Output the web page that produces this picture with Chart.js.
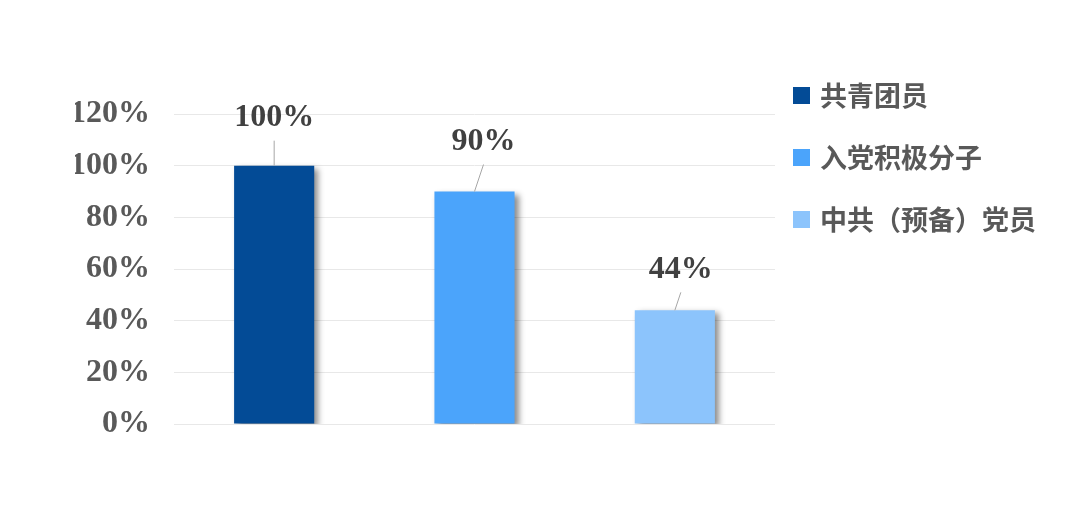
<!DOCTYPE html>
<html>
<head>
<meta charset="utf-8">
<script src="https://cdn.jsdelivr.net/npm/chart.js@4.4.1/dist/chart.umd.min.js"></script>
<style>
    html, body { margin: 0; padding: 0; background: #ffffff; }
    #wrap { width: 1080px; height: 528px; position: relative; }
</style>
</head>
<body>
<div id="wrap"><canvas id="myChart"></canvas></div>
<script>
// chart data
const categories = ['共青团员', '入党积极分子', '中共（预备）党员'];
const percentValues = [100, 90, 44];
const barColors = ['#034B96', '#4BA4FB', '#8CC4FC'];
const yMin = 0;
const yMax = 120;
const yStep = 20;

// one dataset per category so each bar gets its own legend entry
const datasets = categories.map((name, i) => ({
    label: name,
    data: categories.map((c, j) => (j === i ? percentValues[i] : null)),
    backgroundColor: barColors[i],
    borderWidth: 0
}));

// bar shadow + value labels with leader lines
const barDecorPlugin = {
    id: 'barDecor',
    beforeDatasetsDraw(chart) {
        const ctx = chart.ctx;
        const area = chart.chartArea;
        ctx.save();
        // keep the shadow above the 0% line
        ctx.beginPath();
        ctx.rect(area.left, 0, area.right - area.left, area.bottom);
        ctx.clip();
        ctx.shadowColor = 'rgba(0,0,0,0.45)';
        ctx.shadowBlur = 6;
        ctx.shadowOffsetX = 4;
        ctx.shadowOffsetY = 3;
    },
    afterDatasetsDraw(chart, args, opts) {
        const ctx = chart.ctx;
        ctx.restore();
        ctx.save();
        chart.data.datasets.forEach((ds, i) => {
            const bar = chart.getDatasetMeta(i).data[i];
            const shift = opts.shift[i];
            const lx = bar.x + shift.dx;
            const ly = bar.y + shift.dy;
            // leader line
            ctx.strokeStyle = '#A6A6A6';
            ctx.lineWidth = 1;
            ctx.beginPath();
            ctx.moveTo(lx, ly + 23);
            ctx.lineTo(bar.x, bar.y);
            ctx.stroke();
            // value text
            ctx.fillStyle = '#404040';
            ctx.font = 'bold 32px "Liberation Serif", "Times New Roman", serif';
            ctx.textAlign = 'center';
            ctx.textBaseline = 'middle';
            ctx.fillText(ds.data[i] + '%', lx, ly);
        });
        ctx.restore();
    }
};

// legend on the right side
const sideLegendPlugin = {
    id: 'sideLegend',
    afterDraw(chart, args, opts) {
        const ctx = chart.ctx;
        ctx.save();
        ctx.font = 'bold 27px "Noto Sans CJK SC", sans-serif';
        ctx.textBaseline = 'middle';
        ctx.textAlign = 'left';
        chart.data.datasets.forEach((ds, i) => {
            const cy = opts.top + i * opts.step;
            ctx.fillStyle = ds.backgroundColor;
            ctx.fillRect(opts.x, cy - 8, 17, 17);
            ctx.fillStyle = '#595959';
            ctx.fillText(ds.label, opts.x + 27, cy + 1);
        });
        ctx.restore();
    }
};

const ctx = document.getElementById('myChart');

new Chart(ctx, {
    type: 'bar',
    data: {
        labels: categories,
        datasets: datasets
    },
    options: {
        responsive: true,
        maintainAspectRatio: false,
        animation: false,
        layout: {
            padding: { left: 75, right: 305, top: 114, bottom: 104 }
        },
        datasets: {
            bar: {
                grouped: false,
                categoryPercentage: 1,
                barPercentage: 0.4
            }
        },
        scales: {
            x: {
                display: false
            },
            y: {
                min: yMin,
                max: yMax,
                border: { display: false },
                grid: { color: '#E8E8E8', lineWidth: 1, drawTicks: false },
                afterFit: (scale) => { scale.width = 99; },
                ticks: {
                    stepSize: yStep,
                    padding: 24,
                    color: '#595959',
                    font: { family: '"Liberation Serif", "Times New Roman", serif', size: 32, weight: 'bold' },
                    callback: (v) => v + '%'
                }
            }
        },
        plugins: {
            legend: { display: false },
            tooltip: { enabled: false },
            barDecor: {
                shift: [{ dx: 0, dy: -48 }, { dx: 9, dy: -50 }, { dx: 6, dy: -41 }]
            },
            sideLegend: { x: 793, top: 95, step: 62 }
        }
    },
    plugins: [barDecorPlugin, sideLegendPlugin]
});
</script>
</body>
</html>
